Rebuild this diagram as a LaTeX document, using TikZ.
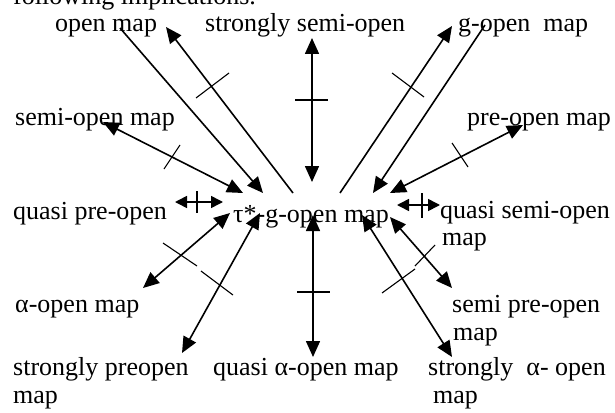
\documentclass[tikz,border=0pt]{standalone}
\usepackage{fontspec}
\setmainfont{Liberation Serif}
\usetikzlibrary{arrows.meta}
\begin{document}
\begin{tikzpicture}[x=1pt,y=-1pt,
  lbl/.style={anchor=base west, inner sep=0pt, font=\fontsize{26}{26}\selectfont},
  arr/.style={line width=1.6pt, -{Triangle[length=16pt,width=14pt]}},
  dbl/.style={line width=1.6pt, {Triangle[length=16pt,width=14pt]}-{Triangle[length=16pt,width=14pt]}},
  sdbl/.style={line width=1.6pt, {Triangle[length=12pt,width=12pt]}-{Triangle[length=12pt,width=12pt]}},
  tick/.style={line width=1.1pt}]
\useasboundingbox (0,0) rectangle (615,412);

% texts
\node[lbl] (foll) at (13,5) {following implications.};
\node[lbl] (open) at (55,32) {open map};
\node[lbl] (sso) at (205,32) {strongly semi-open};
\node[lbl] (gopen) at (458,32) {g-open~ map};
\node[lbl] (semi) at (15,125) {semi-open map};
\node[lbl] (pre) at (467,125) {pre-open map};
\node[lbl] (qpre) at (13,219) {quasi pre-open};
\node[lbl] (tau) at (233,222) {τ*-g-open map};
\node[lbl] (qsemi) at (440,218) {quasi semi-open};
\node[lbl] (qsemi2) at (442,245) {map};
\node[lbl] (alpha) at (15,312) {α-open map};
\node[lbl] (spre) at (452,312) {semi pre-open};
\node[lbl] (spre2) at (453,340) {map};
\node[lbl] (strpre) at (13,375) {strongly preopen};
\node[lbl] (strpre2) at (13,403) {map};
\node[lbl] (qalpha) at (213,375) {quasi α-open map};
\node[lbl] (salpha) at (428,375) {strongly~ α- open};
\node[lbl] (salpha2) at (433,403) {map};

% endpoints
\coordinate (a1) at (120,28);  \coordinate (a2) at (263,193);
\coordinate (b1) at (293,193); \coordinate (b2) at (166,27);
\coordinate (c1) at (103,122); \coordinate (c2) at (243,193);
\coordinate (v1) at (312,38);  \coordinate (v2) at (312,182);
\coordinate (d1) at (340,193); \coordinate (d2) at (452,26);
\coordinate (e1) at (485,25);  \coordinate (e2) at (373,193);
\coordinate (f1) at (523,125); \coordinate (f2) at (390,193);
\coordinate (h1) at (175,202); \coordinate (h2) at (223,202);
\coordinate (k1) at (397,205); \coordinate (k2) at (440,205);
\coordinate (g1) at (230,213); \coordinate (g2) at (143,288);
\coordinate (m1) at (260,213); \coordinate (m2) at (182,353);
\coordinate (w1) at (313,215); \coordinate (w2) at (313,357);
\coordinate (i1) at (362,215); \coordinate (i2) at (452,357);
\coordinate (j1) at (390,217); \coordinate (j2) at (452,288);

% connectors
\draw[arr] (a1) -- (a2);
\draw[arr] (b1) -- (b2);
\draw[dbl] (c1) -- (c2);
\draw[dbl] (v1) -- (v2);
\draw[arr] (d1) -- (d2);
\draw[arr] (e1) -- (e2);
\draw[dbl] (f1) -- (f2);
\draw[sdbl] (h1) -- (h2);
\draw[sdbl] (k1) -- (k2);
\draw[dbl] (g1) -- (g2);
\draw[dbl] (m1) -- (m2);
\draw[dbl] (w1) -- (w2);
\draw[dbl] (i1) -- (i2);
\draw[dbl] (j1) -- (j2);

% negation ticks
\draw[tick] (196,98) -- (229,73);
\draw[tick] (164,169) -- (180,145);
\draw[tick] (295,100) -- (328,100);
\draw[tick] (392,73) -- (424,97);
\draw[tick] (452,143) -- (468,167);
\draw[tick] (197,191) -- (197,213);
\draw[tick] (422,193) -- (422,218);
\draw[tick] (163,243) -- (197,266);
\draw[tick] (201,271) -- (233,295);
\draw[tick] (297,292) -- (330,292);
\draw[tick] (382,293) -- (415,269);
\draw[tick] (415,266) -- (435,245);
\end{tikzpicture}
\end{document}
